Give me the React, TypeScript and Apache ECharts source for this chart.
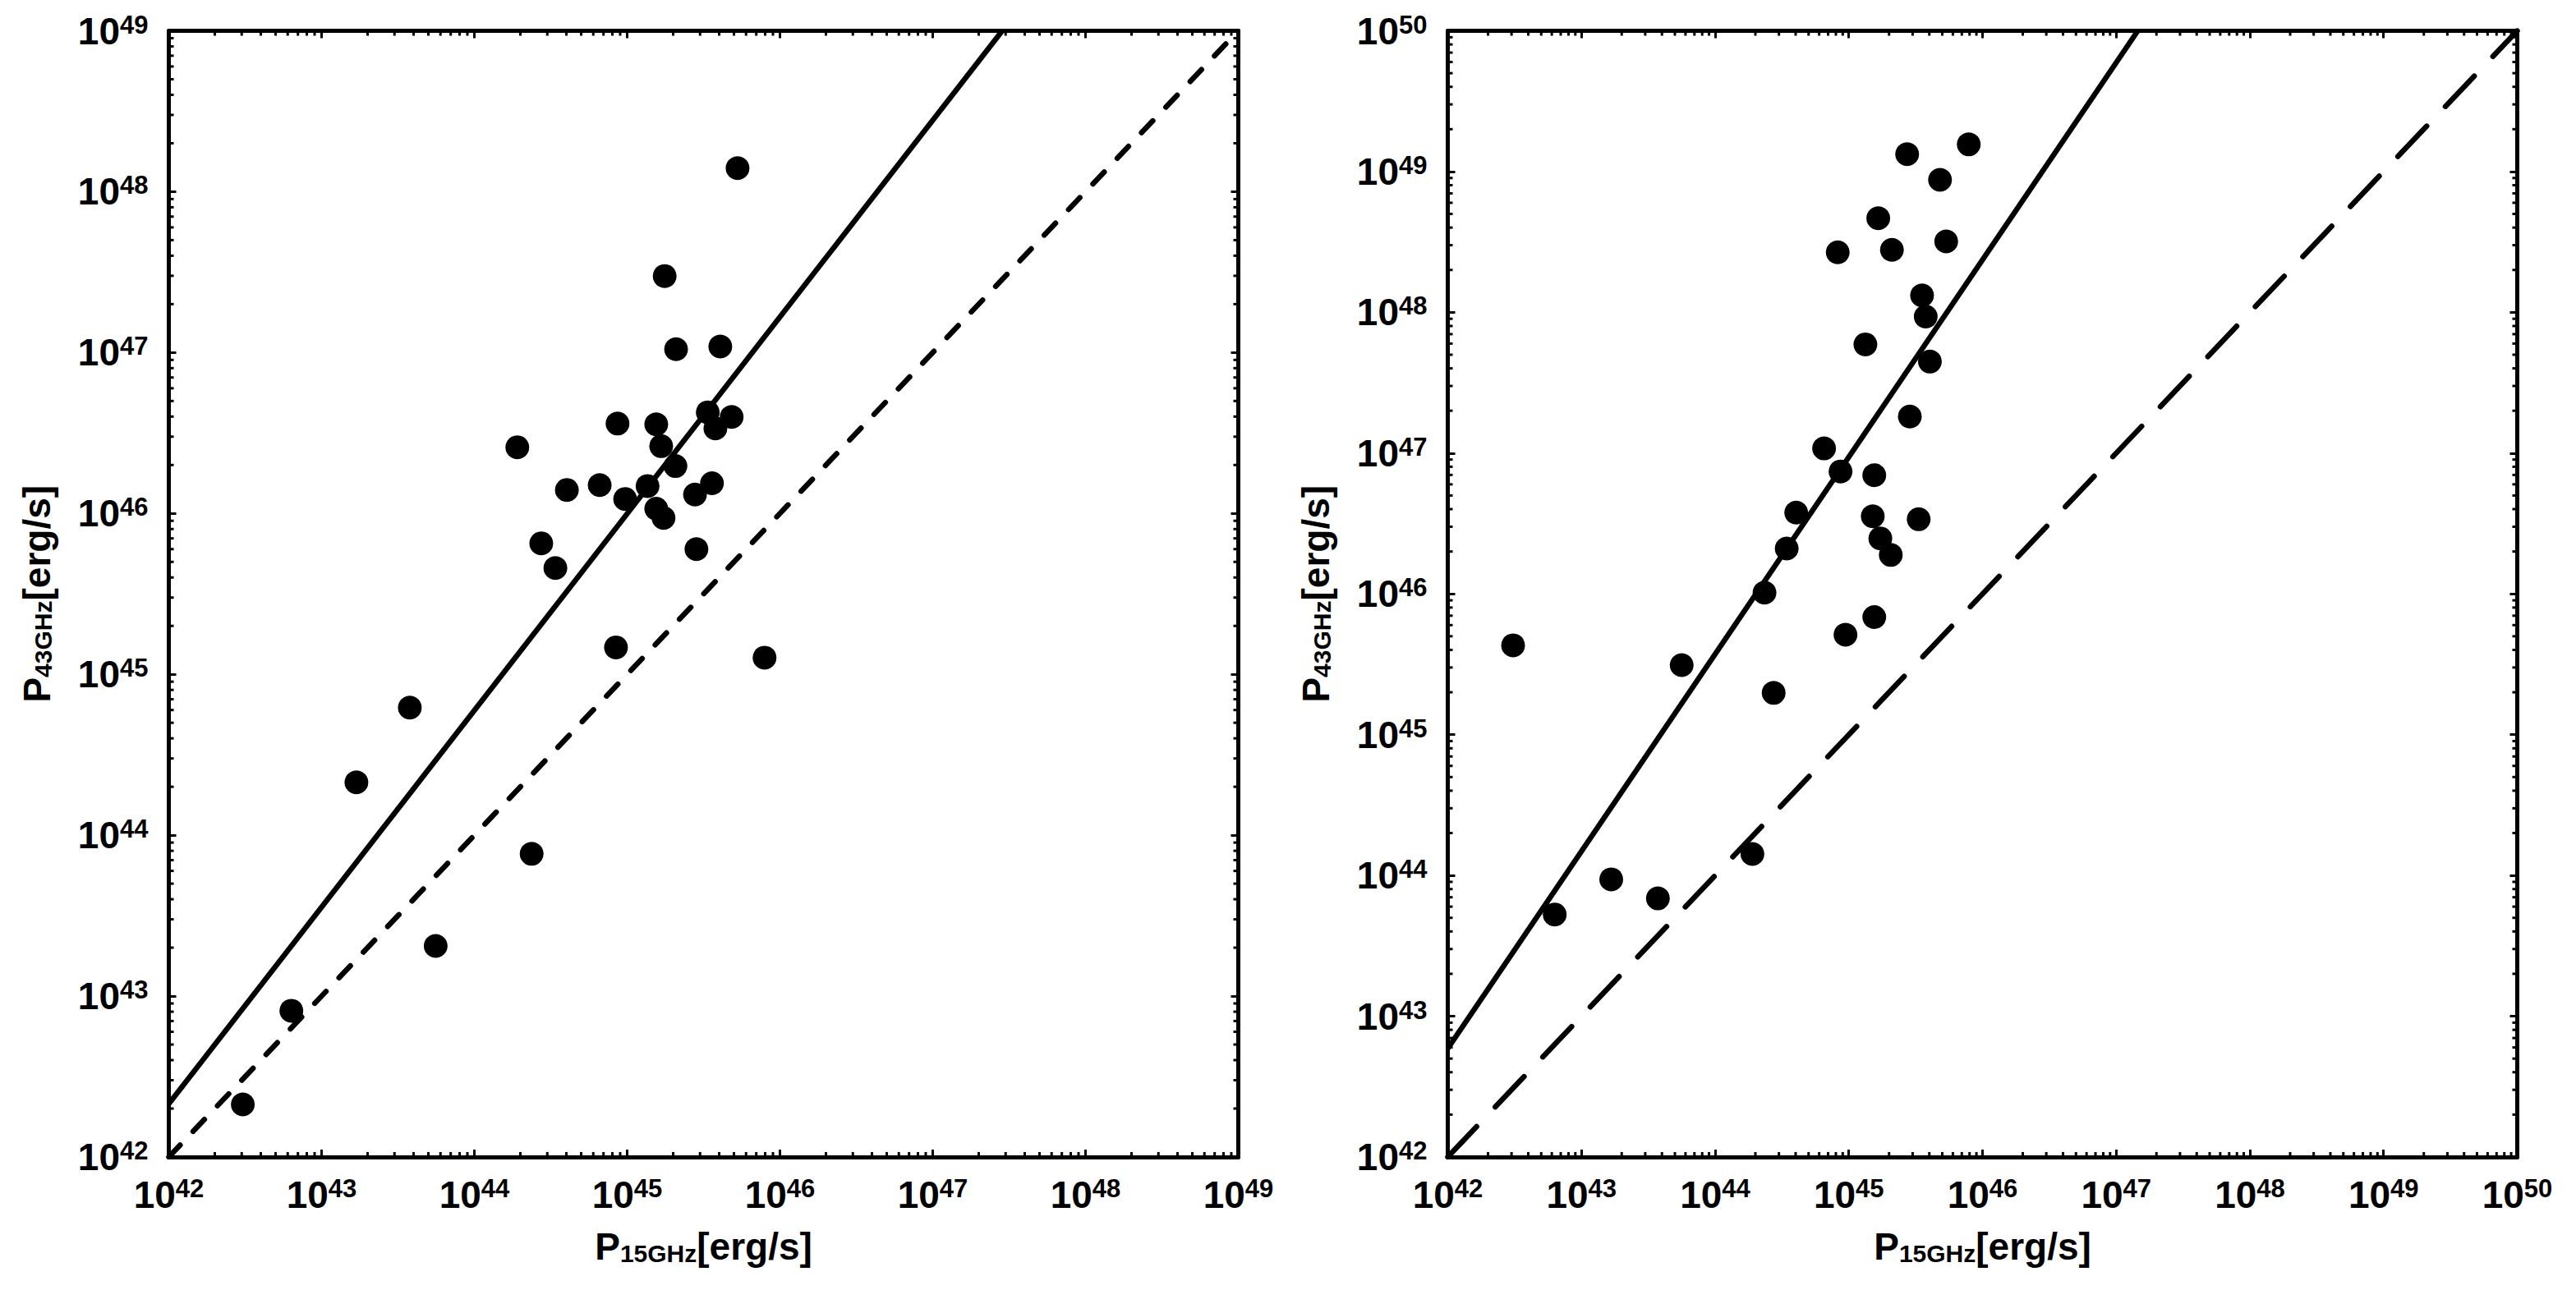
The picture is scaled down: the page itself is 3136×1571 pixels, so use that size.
import React, { useEffect, useRef } from "react";
import * as echarts from "echarts";

// ---------------- data ----------------
// Left panel: P_15GHz (x) vs P_43GHz (y), erg/s
const leftP15 = [
  3.05e42, 6.34e42, 1.69e43, 3.78e43, 5.58e43, 2.37e44, 1.91e44, 2.74e44,
  3.39e44, 4.03e44, 6.61e44, 8.45e44, 8.65e44, 9.7e44, 1.36e45, 1.55e45,
  1.67e45, 1.55e45, 1.73e45, 1.76e45, 2.07e45, 2.09e45, 2.78e45, 2.84e45,
  3.37e45, 3.59e45, 3.78e45, 4.07e45, 4.83e45, 5.28e45, 7.93e45,
];
const leftP43 = [
  2.12e42, 8.11e42, 2.13e44, 6.21e44, 2.05e43, 7.66e43, 2.58e46, 6.52e45,
  4.58e45, 1.4e46, 1.5e46, 1.47e45, 3.62e46, 1.23e46, 1.48e46, 3.58e46,
  2.62e46, 1.07e46, 9.38e45, 2.99e47, 1.97e46, 1.05e47, 1.31e46, 6.0e45,
  4.25e46, 1.54e46, 3.38e46, 1.09e47, 3.98e46, 1.4e48, 1.27e45,
];
// Right panel
const rightP15 = [
  3.08e42, 6.31e42, 1.67e43, 3.73e43, 5.62e43, 1.9e44, 2.34e44, 2.74e44,
  3.43e44, 4.04e44, 6.53e44, 8.26e44, 8.67e44, 9.44e44, 1.33e45, 1.51e45,
  1.55e45, 1.55e45, 1.66e45, 1.72e45, 2.06e45, 2.1e45, 2.73e45, 2.86e45,
  3.33e45, 3.53e45, 3.76e45, 4.04e45, 4.81e45, 5.35e45, 7.89e45,
];
const rightP43 = [
  4.31e45, 5.28e43, 9.38e43, 6.87e43, 3.12e45, 1.42e44, 1.02e46, 1.98e45,
  2.1e46, 3.78e46, 1.08e47, 2.67e48, 7.41e46, 5.13e45, 5.92e47, 3.56e46,
  6.97e46, 6.84e45, 4.66e48, 2.48e46, 1.89e46, 2.78e48, 1.33e49, 1.82e47,
  3.39e46, 1.32e48, 9.33e47, 4.47e47, 8.73e48, 3.19e48, 1.56e49,
];
// Fitted relations (solid) and equality lines (dashed)
const leftFit = [[1e42, 2.14e42], [2.85e47, 1e49]];
const leftEqual = [[1e42, 1e42], [1e49, 1e49]];
const rightFit = [[1e42, 5.9e42], [1.45e47, 1e50]];
const rightEqual = [[1e42, 1e42], [1e50, 1e50]];

// Axis ranges (decade exponents) and tick-label exponents
const leftExp = [42, 43, 44, 45, 46, 47, 48, 49];
const rightExp = [42, 43, 44, 45, 46, 47, 48, 49, 50];

const xTitle = "{b|P}{s|15GHz}{b|[erg/s]}";
const yTitle = "{b|P}{s|43GHz}{b|[erg/s]}";

// ---------------- styles ----------------
const FONT = "'Liberation Sans', Arial, sans-serif";
const labelRich = {
  b: { fontSize: 46, fontWeight: "bold", fontFamily: FONT, color: "#000", lineHeight: 46 },
  s: { fontSize: 31, fontWeight: "bold", fontFamily: FONT, color: "#000", lineHeight: 31, verticalAlign: "top" },
};
const titleRich = {
  b: { fontSize: 46, fontWeight: "bold", fontFamily: FONT, color: "#000", lineHeight: 46 },
  s: { fontSize: 30, fontWeight: "bold", fontFamily: FONT, color: "#000", lineHeight: 30, verticalAlign: "bottom" },
};
const fmt = (v: number) => `{b|10}{s|${Math.round(Math.log10(v))}}`;

function minorValues(lo: number, hi: number) {
  const out: number[] = [];
  for (let e = lo; e < hi; e++) for (let k = 2; k <= 9; k++) out.push(k * Math.pow(10, e));
  return out;
}

function axis(kind: "x" | "y", pos: string, grid: number, exps: number[], showLabel: boolean, name?: string) {
  const min = Math.pow(10, exps[0]);
  const max = Math.pow(10, exps[exps.length - 1]);
  return {
    type: "log",
    logBase: 10,
    gridIndex: grid,
    position: pos,
    min,
    max,
    splitNumber: exps.length - 1,
    axisLine: { show: true, onZero: false, lineStyle: { color: "#000", width: 5 } },
    axisTick: { show: true, inside: true, length: 9, lineStyle: { color: "#000", width: 3 } },
    minorTick: { show: false },
    splitLine: { show: false },
    axisLabel: {
      show: showLabel,
      formatter: fmt,
      rich: labelRich,
      margin: kind === "x" ? 23 : 25,
      showMinLabel: true,
      showMaxLabel: true,
    },
    name: name || "",
    nameLocation: "middle",
    nameGap: kind === "x" ? 86 : 138,
    nameTextStyle: { rich: titleRich },
  };
}

function minorTickSeries(xi: number, yi: number, exps: number[]) {
  const lo = exps[0];
  const hi = exps[exps.length - 1];
  const vmin = Math.pow(10, lo);
  const vmax = Math.pow(10, hi);
  const vals = minorValues(lo, hi);
  const base = {
    type: "scatter",
    xAxisIndex: xi,
    yAxisIndex: yi,
    symbol: "rect",
    silent: true,
    clip: false,
    itemStyle: { color: "#000", opacity: 1 },
    z: 3,
  };
  return [
    { ...base, data: vals.map((v) => [v, vmin]), symbolSize: [3, 6], symbolOffset: [0, -3] },
    { ...base, data: vals.map((v) => [v, vmax]), symbolSize: [3, 6], symbolOffset: [0, 3] },
    { ...base, data: vals.map((v) => [vmin, v]), symbolSize: [6, 3], symbolOffset: [3, 0] },
    { ...base, data: vals.map((v) => [vmax, v]), symbolSize: [6, 3], symbolOffset: [-3, 0] },
  ];
}

function panelSeries(xi: number, yi: number, xs: number[], ys: number[], fit: number[][], eq: number[][], dash: number[]) {
  return [
    {
      type: "line",
      xAxisIndex: xi,
      yAxisIndex: yi,
      data: fit,
      symbol: "none",
      showSymbol: false,
      silent: true,
      lineStyle: { color: "#000", width: 6.5, type: "solid", opacity: 1 },
      z: 4,
    },
    {
      type: "line",
      xAxisIndex: xi,
      yAxisIndex: yi,
      data: eq,
      symbol: "none",
      showSymbol: false,
      silent: true,
      lineStyle: { color: "#000", width: 6.5, type: dash, cap: "round", opacity: 1 },
      z: 4,
    },
    {
      type: "scatter",
      xAxisIndex: xi,
      yAxisIndex: yi,
      data: xs.map((x, i) => [x, ys[i]]),
      symbol: "circle",
      symbolSize: 29,
      itemStyle: { color: "#000", opacity: 1 },
      z: 5,
    },
  ];
}

export default function App() {
  const ref = useRef<HTMLDivElement>(null);
  useEffect(() => {
    if (!ref.current) return;
    const chart = echarts.init(ref.current, undefined, { renderer: "svg" });
    const option = {
      animation: false,
      backgroundColor: "#fff",
      grid: [
        { left: 205.5, top: 37.5, width: 1302, height: 1371.5 },
        { left: 1762.5, top: 37.5, width: 1302, height: 1371.5 },
      ],
      xAxis: [
        axis("x", "bottom", 0, leftExp, true, xTitle),
        axis("x", "top", 0, leftExp, false),
        axis("x", "bottom", 1, rightExp, true, xTitle),
        axis("x", "top", 1, rightExp, false),
      ],
      yAxis: [
        axis("y", "left", 0, leftExp, true, yTitle),
        axis("y", "right", 0, leftExp, false),
        axis("y", "left", 1, rightExp, true, yTitle),
        axis("y", "right", 1, rightExp, false),
      ],
      series: [
        ...panelSeries(0, 0, leftP15, leftP43, leftFit, leftEqual, [20, 23]),
        ...minorTickSeries(0, 0, leftExp),
        ...panelSeries(2, 2, rightP15, rightP43, rightFit, rightEqual, [51, 33]),
        ...minorTickSeries(2, 2, rightExp),
      ],
    };
    chart.setOption(option as any);
    return () => chart.dispose();
  }, []);
  return (
    <div
      ref={ref}
      style={{ position: "fixed", left: 0, top: 0, width: 3136, height: 1571, background: "#fff" }}
    />
  );
}
